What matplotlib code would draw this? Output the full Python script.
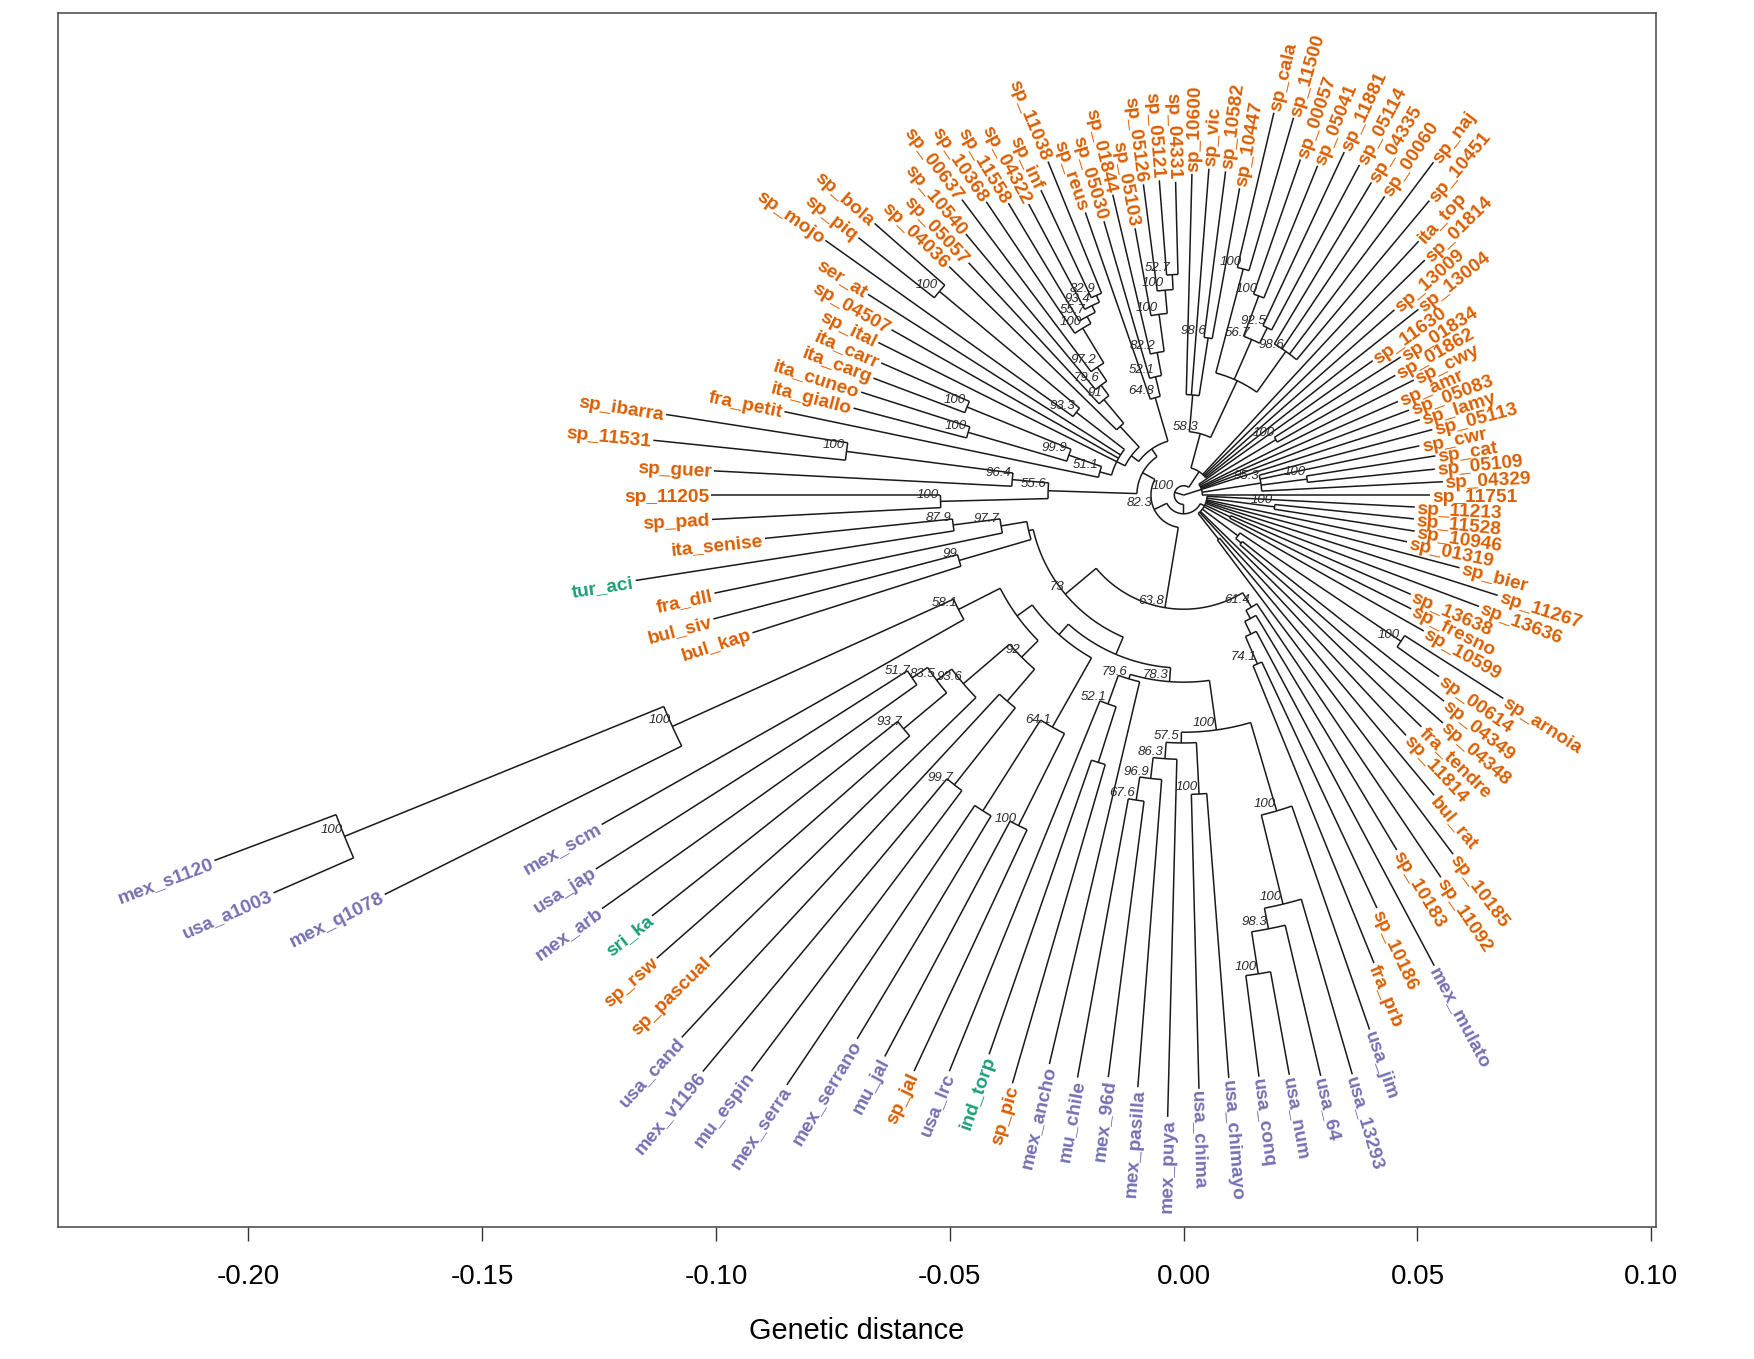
import re
import numpy as np
import matplotlib
matplotlib.use("Agg")
import matplotlib.pyplot as plt

plt.rcParams['font.family'] = ['Liberation Sans', 'DejaVu Sans']
plt.rcParams['axes.unicode_minus'] = False

# ---------------------------------------------------------------------------
# DATA: fan tree. Clades are written in Newick form;
# the number after ':' is the genetic distance of the node from the root,
# text after ')' is the bootstrap support shown on the node.
# ---------------------------------------------------------------------------
CLADE_U1 = ("(sp_11751:0.0526,(sp_04329:0.0555,(sp_05109:0.0540,sp_cat:0.0545)100:0.0266,"
            "sp_cwr:0.0515,sp_05113:0.0550)95.3:0.0167,sp_lamy:0.0530,sp_05083:0.0515,"
            "sp_amr:0.0500,sp_cwy:0.0550,(sp_01862:0.0520,sp_01834:0.0550)100:0.0230,"
            "sp_11630:0.0496):0.0040")
CLADE_U2 = ("(sp_13004:0.0640,sp_13009:0.0600,sp_01814:0.0720,ita_top:0.0740,"
            "(((sp_10451:0.0820,sp_naj:0.0890,sp_00060:0.0770,sp_04335:0.0780)98.6:0.0377,"
            "((sp_05114:0.0800,sp_11881:0.0810)92.5:0.0400,(sp_05041:0.0760,sp_00057:0.0760)100:0.0455)56.7:0.0363,"
            "(sp_11500:0.0840,sp_cala:0.0840)100:0.0500):0.0270,"
            "((sp_10447:0.0667,sp_10582:0.0698)98.6:0.0340,sp_vic:0.0700,sp_10600:0.0687):0.0215)58.3:0.0136):0.0060")
CLADE_C1 = ("((((((sp_04331:0.0670,sp_05121:0.0675)52.7:0.0472,sp_05126:0.0670)100:0.0440,"
            "sp_05103:0.0580)100:0.0390,sp_01844:0.0660)82.2:0.0310,sp_05030:0.0610)52.1:0.0260,"
            "sp_reus:0.0640)64.8:0.0217")
CLADE_C2 = ("(((((((sp_11038:0.0770,sp_inf:0.0720)82.9:0.0466,sp_04322:0.0705)93.4:0.0450,"
            "sp_11558:0.0728)55.7:0.0434,sp_10368:0.0756)100:0.0417,sp_00637:0.0790)97.2:0.0330,"
            "sp_10540:0.0727)79.6:0.0294,sp_05057:0.0677)91:0.0266")
CLADE_UL3 = ("(((sp_bola:0.0880,sp_piq:0.0887)100:0.0680,sp_mojo:0.0940)93.3:0.0290,ser_at:0.0800,"
             "sp_04507:0.0718,sp_ital:0.0730,(((ita_carr:0.0706,ita_carg:0.0709)100:0.0500,"
             "(ita_cuneo:0.0724,ita_giallo:0.0730)100:0.0480)99.9:0.0260,fra_petit:0.0872)51.1:0.0186):0.0160")
CLADE_LEFT = ("(((sp_ibarra:0.1120,sp_11531:0.1140)100:0.0727,sp_guer:0.1006)96.4:0.0368,"
              "(sp_11205:0.1010,sp_pad:0.1010)100:0.0520)55.6:0.0290")
CLADE_LL = ("(((ita_senise:0.0900,tur_aci:0.1186)87.9:0.0497,fra_dll:0.1025)97.7:0.0396,"
            "(bul_siv:0.1040,bul_kap:0.0968)99:0.0500):0.0340")
CLADE_58 = ("(((mex_s1120:0.2215,usa_a1003:0.2124)100:0.1937,mex_q1078:0.1910)100:0.1200,"
            "mex_scm:0.1430)58.1:0.0540")
CLADE_92 = ("((((usa_jap:0.1490,mex_arb:0.1526)51.7:0.0700,(sri_ka:0.1450,sp_rsw:0.1500)93.7:0.0780)83.5:0.0660,"
            "sp_pascual:0.1416)93.6:0.0620,(usa_cand:0.1580,(mex_v1196:0.1605,mu_espin:0.1540)99.7:0.0790):0.0580)92:0.0490")
CLADE_64 = ("((mex_serra:0.1520,mex_serrano:0.1356):0.0800,(mu_jal:0.1360,sp_jal:0.1360)100:0.0790)64.1:0.0570")
CLADE_52 = "(usa_lrc:0.1330,(ind_torp:0.1266,sp_pic:0.1310):0.0600)52.1:0.0475"
CLADE_57 = ("((((mu_chile:0.1266,mex_96d:0.1255)67.6:0.0660,mex_pasilla:0.1270)96.9:0.0610,"
            "mex_puya:0.1330)86.3:0.0565,(usa_chima:0.1270,usa_chimayo:0.1250)100:0.0640)57.5:0.0530")
CLADE_USA = ("((((usa_conq:0.1254,usa_num:0.1260)100:0.1036,usa_64:0.1276)98.3:0.0945,"
             "usa_13293:0.1290)100:0.0900,usa_jim:0.1210)100:0.0704")
CLADE_RL1 = ("((((fra_prb:0.1080,sp_10186:0.0975)74.1:0.0394,mex_mulato:0.1140):0.0330,"
             "sp_10183:0.0885):0.0300,sp_11092:0.0985)61.4:0.0280")
CLADE_RL2 = ("((sp_10185:0.0960,bul_rat:0.0836):0.0120,sp_11814:0.0700,fra_tendre:0.0710,"
             "((sp_04348:0.0738,sp_04349:0.0710):0.0160,(sp_00614:0.0670,sp_arnoia:0.0810)100:0.0560):0.0145,"
             "sp_10599:0.0590,(sp_fresno:0.0544,sp_13638:0.0530):0.0110,sp_13636:0.0675,sp_11267:0.0705,"
             "sp_bier:0.0610,sp_01319:0.0488,(sp_10946:0.0500,sp_11528:0.0495)100:0.0196,sp_11213:0.0495):0.0050")

# how the clades join (distances of the joining nodes from the root)
UL = f"({CLADE_C1},(({CLADE_C2},sp_04036:0.0700):0.0200,{CLADE_UL3}):0.0140):0.0120"
MEX = f"(({CLADE_58},{CLADE_92}):0.0440,{CLADE_64}):0.0400"
N78 = f"(({CLADE_52},mex_ancho:0.1250)79.6:0.0410,({CLADE_57},{CLADE_USA})100:0.0507)78.3:0.0400"
N63 = f"(({CLADE_LL},({MEX},{N78}):0.0370)73:0.0330,{CLADE_RL1})63.8:0.0244"
RD = f"((({UL},{CLADE_LEFT}):0.0100,{N63})82.3:0.0070,{CLADE_RL2}):0.0040"
TREE = f"({CLADE_U1},({CLADE_U2},{RD})100:0.0020):0.0;"

# label colour groups (RColorBrewer Dark2)
purple_prefixes = ["mex_", "usa_", "mu_"]
green_tips = ["tur_aci", "sri_ka", "ind_torp"]
group_colors = {"orange": "#D95F02", "purple": "#7570B3", "green": "#1B9E77"}

tick_values = [-0.20, -0.15, -0.10, -0.05, 0.00, 0.05, 0.10]
tick_labels = ["-0.20", "-0.15", "-0.10", "-0.05", "0.00", "0.05", "0.10"]
x_title = "Genetic distance"

# ---------------------------------------------------------------------------
def parse_newick(s):
    pos = 0

    def node():
        nonlocal pos
        children = []
        if s[pos] == '(':
            pos += 1
            while True:
                children.append(node())
                if s[pos] == ',':
                    pos += 1
                    continue
                if s[pos] == ')':
                    pos += 1
                    break
        m = re.match(r"[^:,();]*", s[pos:])
        label = m.group(0)
        pos += len(label)
        depth = 0.0
        if pos < len(s) and s[pos] == ':':
            pos += 1
            m = re.match(r"[0-9.eE+-]+", s[pos:])
            depth = float(m.group(0))
            pos += len(m.group(0))
        return {"label": label, "depth": depth, "children": children}

    return node()


root = parse_newick(TREE)

tips = []


def collect(n):
    if not n["children"]:
        tips.append(n)
    for c in n["children"]:
        collect(c)


collect(root)
N = len(tips)
for i, t in enumerate(tips):
    t["theta"] = 2 * np.pi * i / N


def set_theta(n):
    if n["children"]:
        for c in n["children"]:
            set_theta(c)
        n["theta"] = 0.5 * (n["children"][0]["theta"] + n["children"][-1]["theta"])


set_theta(root)


def tip_color(name):
    if name in green_tips:
        return group_colors["green"]
    if any(name.startswith(p) for p in purple_prefixes):
        return group_colors["purple"]
    return group_colors["orange"]


# ---------------------------------------------------------------------------
fig = plt.figure(figsize=(17.54, 13.59), dpi=100)
ax = fig.add_axes([58 / 1754, 132 / 1359, 1598 / 1754, 1213.6 / 1359])
ax.set_xlim(-0.2407, 0.1010)
ax.set_ylim(-0.1565, 0.1030)

line_kw = dict(color="#1a1a1a", lw=1.1, solid_capstyle="butt")


def draw(n):
    if not n["children"]:
        return
    r0 = n["depth"]
    t0 = n["children"][0]["theta"]
    t1 = n["children"][-1]["theta"]
    if r0 > 0:
        tt = np.linspace(t0, t1, max(8, int(abs(t1 - t0) * 80)))
        ax.plot(r0 * np.cos(tt), r0 * np.sin(tt), **line_kw)
    for c in n["children"]:
        th = c["theta"]
        ax.plot([r0 * np.cos(th), c["depth"] * np.cos(th)],
                [r0 * np.sin(th), c["depth"] * np.sin(th)], **line_kw)
        draw(c)
    if n["label"]:
        x, y = r0 * np.cos(n["theta"]), r0 * np.sin(n["theta"])
        ax.annotate(n["label"], (x, y), xytext=(-1, 0.5), textcoords="offset points",
                    ha="right", va="bottom", fontsize=9.5, style="italic", color="#2a2a2a")


draw(root)

offset = 0.0005
for t in tips:
    th = t["theta"]
    deg = np.degrees(th)
    r = t["depth"] + offset
    x, y = r * np.cos(th), r * np.sin(th)
    if 90 < deg < 270:
        rot, ha = deg - 180, "right"
    else:
        rot, ha = (deg if deg <= 90 else deg - 360), "left"
    ax.text(x, y, t["label"], rotation=rot, rotation_mode="anchor", ha=ha,
            va="center_baseline", fontsize=13.8, fontweight="bold", color=tip_color(t["label"]))

ax.set_xticks(tick_values)
ax.set_xticklabels(tick_labels)
ax.set_yticks([])
ax.tick_params(axis="x", length=10, width=1, pad=17, labelsize=20, color="#333")
for s in ax.spines.values():
    s.set_color("#444")
    s.set_linewidth(1.1)
ax.set_xlabel(x_title, fontsize=20.8, labelpad=19)

fig.savefig("out.png", dpi=100)
